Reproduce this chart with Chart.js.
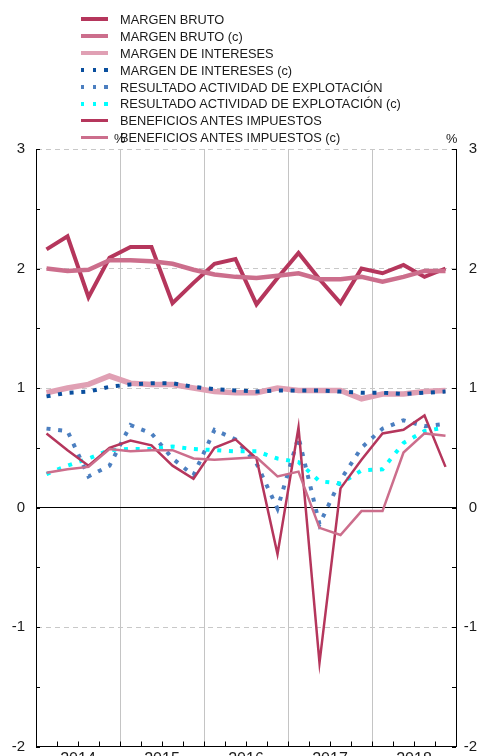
<!DOCTYPE html>
<html><head><meta charset="utf-8">
<script src="https://cdn.jsdelivr.net/npm/chart.js@4/dist/chart.umd.min.js"></script>
<style>
html,body{margin:0;padding:0;background:#fff;overflow:hidden;}
#wrap{position:relative;width:481px;height:780px;}
#c{position:absolute;left:0;top:0;}
#legend{position:absolute;left:81px;top:11px;font-family:"Liberation Sans",Arial,sans-serif;font-size:12.8px;color:#1a1a1a;}
.row{height:16.9px;display:flex;align-items:center;white-space:nowrap;}
.sw{width:27px;margin-right:12px;flex:none;}
.unit{position:absolute;font-family:"Liberation Sans",Arial,sans-serif;font-size:12.8px;color:#1a1a1a;}
</style></head>
<body>
<div id="wrap">
<canvas id="c" width="481" height="780"></canvas>
<span class="unit" style="left:114px;top:131px">%</span>
<div id="legend"></div>
<span class="unit" style="left:446px;top:131px">%</span>
</div>
<script>
// ---- data ----
const quarters = ["2014T1","2014T2","2014T3","2014T4","2015T1","2015T2","2015T3","2015T4",
  "2016T1","2016T2","2016T3","2016T4","2017T1","2017T2","2017T3","2017T4",
  "2018T1","2018T2","2018T3","2018T4"];
const years = ["2014","2015","2016","2017","2018"];
const yTicks = [-2,-1,0,1,2,3];

const labels = ["MARGEN BRUTO","MARGEN BRUTO (c)","MARGEN DE INTERESES","MARGEN DE INTERESES (c)",
  "RESULTADO ACTIVIDAD DE EXPLOTACIÓN","RESULTADO ACTIVIDAD DE EXPLOTACIÓN (c)",
  "BENEFICIOS ANTES IMPUESTOS","BENEFICIOS ANTES IMPUESTOS (c)"];

const margenBruto  = [2.16,2.27,1.76,2.09,2.18,2.18,1.71,1.88,2.04,2.08,1.70,1.92,2.13,1.91,1.71,2.00,1.96,2.03,1.93,2.00];
const margenBrutoC = [2.00,1.98,1.99,2.07,2.07,2.06,2.04,1.99,1.95,1.93,1.92,1.94,1.96,1.91,1.91,1.93,1.89,1.93,1.98,1.98];
const margenInt    = [0.96,1.00,1.03,1.10,1.04,1.03,1.03,1.00,0.97,0.96,0.96,1.00,0.98,0.98,0.98,0.91,0.95,0.95,0.97,0.98];
const margenIntC   = [0.93,0.96,0.97,1.01,1.03,1.04,1.04,1.01,0.99,0.98,0.97,0.98,0.98,0.98,0.97,0.96,0.96,0.95,0.96,0.97];
const resultado    = [0.66,0.64,0.26,0.35,0.69,0.62,0.41,0.27,0.65,0.57,0.37,-0.01,0.59,-0.14,0.23,0.50,0.66,0.73,0.68,0.70];
const resultadoC   = [0.28,0.35,0.41,0.48,0.49,0.49,0.51,0.49,0.48,0.47,0.47,0.41,0.38,0.22,0.20,0.31,0.32,0.54,0.64,0.67];
const beneficios   = [0.62,0.48,0.35,0.50,0.56,0.52,0.35,0.24,0.50,0.57,0.41,-0.39,0.67,-1.30,0.16,0.40,0.62,0.65,0.77,0.34];
const beneficiosC  = [0.29,0.32,0.34,0.49,0.47,0.48,0.48,0.41,0.40,0.41,0.42,0.26,0.30,-0.17,-0.23,-0.03,-0.03,0.46,0.62,0.60];

// ---- styles ----
const series = [
  {data: margenBruto,  color:'#B5365C', width:4,   dash:null},
  {data: margenBrutoC, color:'#CC6E8C', width:4.5, dash:null},
  {data: margenInt,    color:'#E0A0B4', width:5.5, dash:null},
  {data: margenIntC,   color:'#0A4F9E', width:4,   dash:[4,7.7]},
  {data: resultado,    color:'#4C7FC0', width:4,   dash:[4,7.7]},
  {data: resultadoC,   color:'#00FFFF', width:4,   dash:[4,7.7]},
  {data: beneficios,   color:'#B5365C', width:2.5, dash:null},
  {data: beneficiosC,  color:'#CC6E8C', width:2.5, dash:null}
];
const legendThick = [4,4,4,4,4,4,2.7,2.7];

const datasets = series.map((s, i) => ({
  label: labels[i],
  data: s.data.map((v, k) => ({x: quarters.indexOf(quarters[k]) + 0.5, y: v})),
  borderColor: s.color,
  backgroundColor: s.color,
  borderWidth: s.width,
  borderDash: s.dash || [],
  borderCapStyle: 'butt',
  borderJoinStyle: 'miter',
  pointRadius: 0,
  tension: 0,
  fill: false,
  order: series.length - i
}));

// HTML legend
const lg = document.getElementById('legend');
series.forEach((s, i) => {
  const row = document.createElement('div'); row.className = 'row';
  const sw = document.createElement('div'); sw.className = 'sw';
  sw.style.height = legendThick[i] + 'px';
  if (s.dash) sw.style.background = `repeating-linear-gradient(to right, ${s.color} 0 3.4px, transparent 3.4px 11.7px)`;
  else sw.style.background = s.color;
  const tx = document.createElement('span'); tx.textContent = labels[i];
  row.appendChild(sw); row.appendChild(tx); lg.appendChild(row);
});

const T = 'rgba(0,0,0,0)';
const innerTicks = {
  id: 'innerTicks',
  afterDraw(chart) {
    const {ctx, chartArea: a, scales: {x, y}} = chart;
    ctx.save(); ctx.strokeStyle = '#000'; ctx.lineWidth = 1; ctx.beginPath();
    for (let v = yTicks[0]; v <= yTicks[yTicks.length-1] + 1e-9; v += 0.5) {
      const py = Math.round(y.getPixelForValue(v)) + 0.5;
      ctx.moveTo(a.left, py); ctx.lineTo(a.left + 4, py);
      ctx.moveTo(a.right, py); ctx.lineTo(a.right - 4, py);
    }
    for (let q = 1; q < quarters.length; q++) {
      const px = Math.round(x.getPixelForValue(q)) + 0.5;
      ctx.moveTo(px, a.bottom); ctx.lineTo(px, a.bottom - 5);
    }
    ctx.stroke(); ctx.restore();
  }
};

new Chart(document.getElementById('c'), {
  type: 'line',
  data: { datasets },
  plugins: [innerTicks],
  options: {
    responsive: false, animation: false, devicePixelRatio: 1,
    layout: { padding: { top: 149, right: 4, bottom: 0, left: 0 } },
    plugins: { legend: { display: false }, tooltip: { enabled: false } },
    scales: {
      x: {
        type: 'linear', position: 'bottom', min: 0, max: quarters.length,
        afterFit: s => { s.height = 780 - 746.5; },
        ticks: {
          stepSize: 1, autoSkip: false, maxRotation: 0, minRotation: 0, padding: 3,
          font: { family: '"Liberation Sans", Arial, sans-serif', size: 16 }, color: '#1a1a1a',
          callback: v => { const k = (v - 2) / 4; return (Number.isInteger(k) && k >= 0 && k < years.length) ? years[k] : ''; }
        },
        grid: { drawTicks: false, lineWidth: 1,
          color: c => (c.tick && c.tick.value % 4 === 0 && c.tick.value > 0 && c.tick.value < quarters.length) ? '#c4c4c4' : T },
        border: { display: true, color: '#000', width: 1 }
      },
      y: {
        type: 'linear', position: 'left', min: yTicks[0], max: yTicks[yTicks.length-1],
        afterFit: s => { s.width = 36; },
        ticks: { stepSize: 1, padding: 11, color: '#1a1a1a',
          font: { family: '"Liberation Sans", Arial, sans-serif', size: 15 } },
        grid: { drawTicks: false, lineWidth: 1,
          color: c => (c.tick && (c.tick.value === 0 || c.tick.value === yTicks[0])) ? T : '#c8c8c8' },
        border: { display: true, color: '#000', width: 1, dash: [5, 4] }
      },
      y2: {
        type: 'linear', position: 'right', min: yTicks[0], max: yTicks[yTicks.length-1],
        afterFit: s => { s.width = 21; },
        ticks: { stepSize: 1, padding: 0, crossAlign: 'far', color: '#1a1a1a',
          font: { family: '"Liberation Sans", Arial, sans-serif', size: 15 } },
        grid: { drawTicks: false, lineWidth: 1,
          color: c => (c.tick && c.tick.value === 0) ? '#000' : T },
        border: { display: true, color: '#000', width: 1 }
      }
    }
  }
});
</script>
</body></html>
